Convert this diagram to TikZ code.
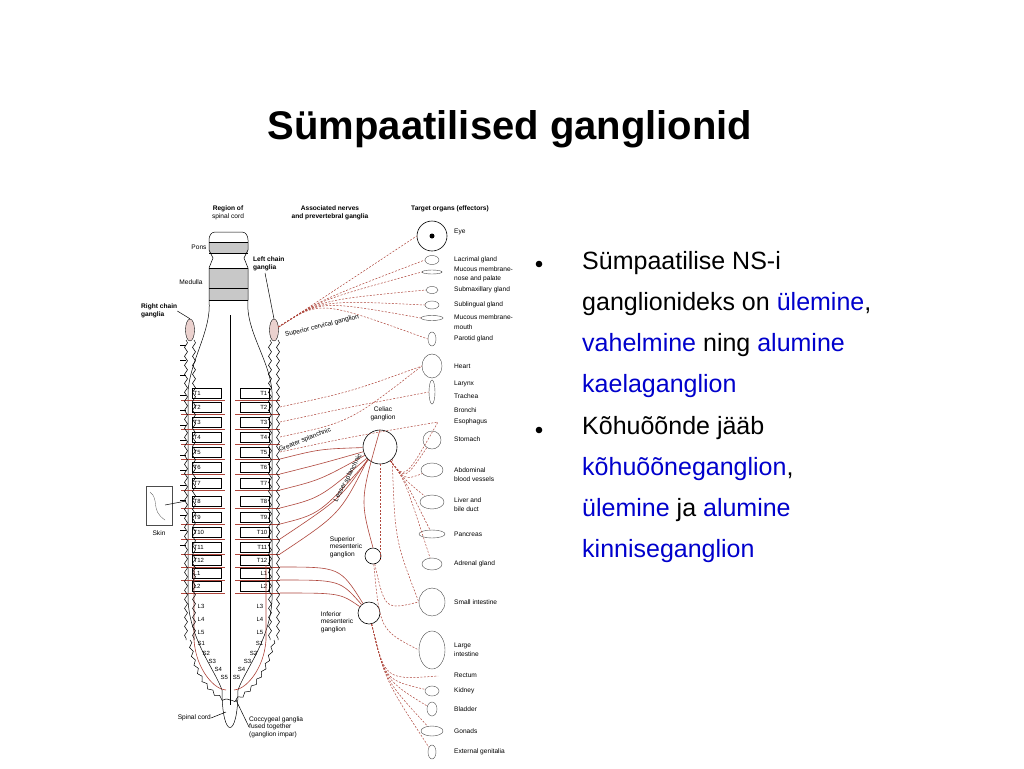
\documentclass[tikz,border=0pt]{standalone}
\usepackage{fontspec}
\setmainfont{Liberation Sans}
\usetikzlibrary{decorations.pathmorphing,shapes.geometric}
\definecolor{figred}{RGB}{175,70,60}
\definecolor{txtblue}{RGB}{0,0,204}
\definecolor{band}{RGB}{200,200,200}
\begin{document}
\begin{tikzpicture}[x=1pt,y=-1pt,
  tiny/.style={font=\fontsize{6.6}{7.6}\selectfont,inner sep=0pt,align=left},
  tinyb/.style={font=\fontsize{6.6}{7.6}\selectfont\bfseries,inner sep=0pt,align=center},
  seg/.style={font=\fontsize{6}{6.5}\selectfont,inner sep=0.5pt},
  box/.style={draw=black,line width=0.5pt},
  nerve/.style={draw=figred,line width=0.6pt},
  pre/.style={draw=figred,line width=0.6pt},
  post/.style={draw=figred,line width=0.5pt,dash pattern=on 2pt off 1.5pt},
  organ/.style={draw=black!70,line width=0.4pt,fill=white},
  gang/.style={draw=black,line width=0.6pt,fill=white,circle},
  chain/.style={draw=black,line width=0.5pt,decorate,decoration={snake,segment length=9pt,amplitude=1.5pt}},
  bul/.style={font=\fontsize{25}{30}\selectfont,anchor=base west,inner sep=0pt},
  hl/.style={text=txtblue}]
\useasboundingbox (0,0) rectangle (1024,768);
\fill[white] (0,0) rectangle (1024,768);
% title
\node[font=\fontsize{40}{48}\selectfont\bfseries,anchor=base,inner sep=0pt] (title) at (510,139) {Sümpaatilised ganglionid};
% bullets
\fill (539,264) circle (3.3);
\fill (539,430) circle (3.3);
\node[bul] (b1) at (582,269) {Sümpaatilise NS-i};
\node[bul] (b2) at (582,310) {ganglionideks on \textcolor{txtblue}{ülemine},};
\node[bul] (b3) at (582,351) {\textcolor{txtblue}{vahelmine} ning \textcolor{txtblue}{alumine}};
\node[bul] (b4) at (582,392) {\textcolor{txtblue}{kaelaganglion}};
\node[bul] (b5) at (582,434) {Kõhuõõnde jääb};
\node[bul] (b6) at (582,475) {\textcolor{txtblue}{kõhuõõneganglion},};
\node[bul] (b7) at (582,516) {\textcolor{txtblue}{ülemine} ja \textcolor{txtblue}{alumine}};
\node[bul] (b8) at (582,557) {\textcolor{txtblue}{kinniseganglion}};
% headers
\node[tinyb] (h1) at (228,213) {Region of\\\mdseries spinal cord};
\node[tinyb] (h2) at (330,213) {Associated nerves\\and prevertebral ganglia};
\node[tinyb,anchor=west] (h3) at (411,209) {Target organs (effectors)};
% spinal cord outline
\fill[band] (209,242) rectangle (248,253);
\fill[band] (209,268) rectangle (248,300);
\draw[box] (209,300) -- (209,268) -- (213,258) -- (209,250) -- (209,240) to[out=90,in=180] (215,232) -- (242,232) to[out=0,in=90] (248,240) -- (248,250) -- (244,258) -- (248,268) -- (248,300);
\draw[box] (209,242)--(248,242) (209,253)--(248,253) (209,268)--(248,268) (209,288)--(248,288) (209,300)--(248,300);
\draw[box] (209,300) .. controls (212,330) and (190,360) .. (188,392) -- (188,600) .. controls (190,640) and (215,670) .. (222,690);
\draw[box] (248,300) .. controls (245,330) and (270,360) .. (272,392) -- (272,600) .. controls (270,640) and (245,670) .. (238,690);
\draw[box] (222,690) .. controls (222,740) and (238,740) .. (238,690);
\draw[box] (230,315) -- (230,705);
% segments
\foreach \l/\y in {T1/393,T2/407,T3/422,T4/437,T5/452,T6/467,T7/483,T8/501,T9/517,T10/532,T11/547,T12/560,L1/573,L2/586}{
  \draw[box,fill=white] (192,\y-5) rectangle (221,\y+5);
  \node[seg,anchor=west] at (193,\y) {\l};
  \draw[box,fill=white] (240,\y-5) rectangle (269,\y+5);
  \node[seg,anchor=east] at (268,\y) {\l};
  \draw[nerve] (181,\y+7) -- (225,\y+7);
  \draw[nerve] (235,\y+7) -- (280,\y+7);
}
\foreach \l/\x/\y in {L3/197/606,L4/197/619,L5/197/632,S1/197/643,S2/202/653,S3/208/661,S4/214/669,S5/220/677}{
  \node[seg,anchor=west] at (\x,\y) {\l};}
\foreach \l/\x/\y in {L3/264/606,L4/264/619,L5/264/632,S1/264/643,S2/258/653,S3/252/661,S4/246/669,S5/241/677}{
  \node[seg,anchor=east] at (\x,\y) {\l};}
\draw[nerve] (194,565) -- (194,640) .. controls (196,670) and (215,690) .. (226,690);
\draw[nerve] (266,565) -- (266,640) .. controls (264,670) and (245,690) .. (234,690);
% sympathetic chains
\draw[chain] (186,340) -- (186,640);
\draw[chain] (194,340) -- (194,640);
\draw[chain] (270,340) -- (270,640);
\draw[chain] (278,340) -- (278,640);
\draw[chain] (190,640) .. controls (195,680) and (215,695) .. (230,700);
\draw[chain] (274,640) .. controls (265,680) and (245,695) .. (230,700);
\node[draw=black,fill=figred!25,ellipse,minimum width=9pt,minimum height=22pt,inner sep=0pt] (rsc) at (190,330) {};
\node[draw=black,fill=figred!25,ellipse,minimum width=9pt,minimum height=22pt,inner sep=0pt] (sc) at (274,330) {};
\foreach \y in {345,360,375,395,410,425,440,455,470,485,500,515,530,545}{\draw[box] (180,\y) -- (186,\y);}
% labels left
\node[tiny] (pons) at (199,247) {Pons};
\node[tiny] (med) at (191,282) {Medulla};
\node[tinyb,align=left,anchor=west] (lcg) at (253,264) {Left chain\\ganglia};
\draw[box] (265,273) -- (sc.north);
\node[tinyb,align=left,anchor=west] (rcg) at (141,311) {Right chain\\ganglia};
\draw[box] (rcg.east) -- (rsc.north);
\draw[organ] (146,486) rectangle (172,525);
\draw[black!70,line width=0.3pt] (150,492) .. controls (160,500) and (150,510) .. (165,520);
\node[tiny] (skin) at (159,533) {Skin};
\coordinate (skinpt) at (165,505);
\draw[box] (skinpt) -- (186,501);
\node[tiny,anchor=east] (spc) at (211,718) {Spinal cord};
\draw[box] (spc.east) -- (226,712);
\node[tiny,anchor=west] (cocc) at (249,727) {Coccygeal ganglia\\fused together\\(ganglion impar)};
\draw[box] (cocc.west) -- (236,700);
% prevertebral ganglia
\node[gang,minimum size=34pt,inner sep=0pt] (cel) at (380,447) {};
\node[tiny,align=center] (cell) at (383,414) {Celiac\\ganglion};
\node[gang,minimum size=16pt,inner sep=0pt] (smg) at (373,556) {};
\node[tiny] (smgl) at (346,547) {Superior\\mesenteric\\ganglion};
\node[gang,minimum size=22pt,inner sep=0pt] (img) at (369,613) {};
\node[tiny] (imgl) at (337,622) {Inferior\\mesenteric\\ganglion};
% organs
\node[gang,draw=black,minimum size=30pt,inner sep=0pt] (eye) at (432,236) {};
\fill (432,236) circle (2.5);
\foreach \n/\y/\w/\h in {lac/260/14/9,mnose/272/20/4,smax/290/12/7,subl/305/14/8,mmouth/318/22/5,par/339/8/14,heart/366/20/24,lar/392/6/24,sto/440/18/18,abd/470/22/14,liv/502/24/14,pan/534/26/8,adr/564/20/12,si/602/26/28,li/650/26/38,kid/691/14/10,bla/709/10/14,gon/731/22/10,gen/752/8/14}{
  \node[organ,ellipse,minimum width=\w pt,minimum height=\h pt,inner sep=0pt] (\n) at (432,\y) {};}
\foreach \t/\y in {Eye/232,Lacrimal gland/260,Mucous membrane-/269,nose and palate/279,Submaxillary gland/290,Sublingual gland/305,Mucous membrane-/317,mouth/327,Parotid gland/339,Heart/366,Larynx/384,Trachea/396,Bronchi/410,Esophagus/422,Stomach/439,Abdominal/470,blood vessels/479,Liver and/500,bile duct/509,Pancreas/534,Adrenal gland/564,Small intestine/602,Large/646,intestine/654,Rectum/675,Kidney/691,Bladder/709,Gonads/731,External genitalia/752}{
  \node[tiny,anchor=west] at (454,\y) {\t};}
\coordinate (eso) at (438,422);
\coordinate (rec) at (438,676);
\coordinate (celbot) at (380,560);
% postganglionic from superior cervical ganglion
\foreach \n in {eye,lac,mnose,smax,subl,mmouth,par}{\draw[post] (sc) .. controls (320,300) .. (\n.west);}
\node[tiny,rotate=14,text=black] (scl) at (322,326) {Superior cervical ganglion};
% thoracic to heart etc
\foreach \y/\n in {407/heart,422/lar,437/heart,452/eso}{\draw[post] (280,\y) .. controls (350,\y-15) .. (\n.west);}
% greater / lesser splanchnic
\foreach \y in {459,474,490,508,524}{\draw[pre] (280,\y) .. controls (320,\y-10) .. (cel);}
\foreach \y in {539,554}{\draw[pre] (280,\y) .. controls (340,\y-40) .. (cel.south west);}
\node[tiny,rotate=22] (gsn) at (305,440) {Greater splanchnic};
\node[tiny,rotate=62] (lsn) at (348,478) {Lesser splanchnic};
\draw[pre] (cel.north) .. controls (360,500) .. (smg.north);
\foreach \y in {567,580,593}{\draw[pre] (280,\y) .. controls (340,\y) .. (img);}
% postganglionic abdominal
\foreach \n in {eso,sto,abd,liv,pan,adr}{\draw[post] (cel) .. controls (405,480) .. (\n);}
\draw[post] (cel) -- (celbot);
\draw[post] (cel.south east) .. controls (395,540) .. (si.west);
\draw[post] (smg) .. controls (385,610) .. (si.west);
\draw[post] (smg) .. controls (380,630) .. (li.west);
\foreach \n in {rec,kid,bla,gon,gen}{\draw[post] (img) .. controls (385,680) .. (\n);}
\end{tikzpicture}
\end{document}
